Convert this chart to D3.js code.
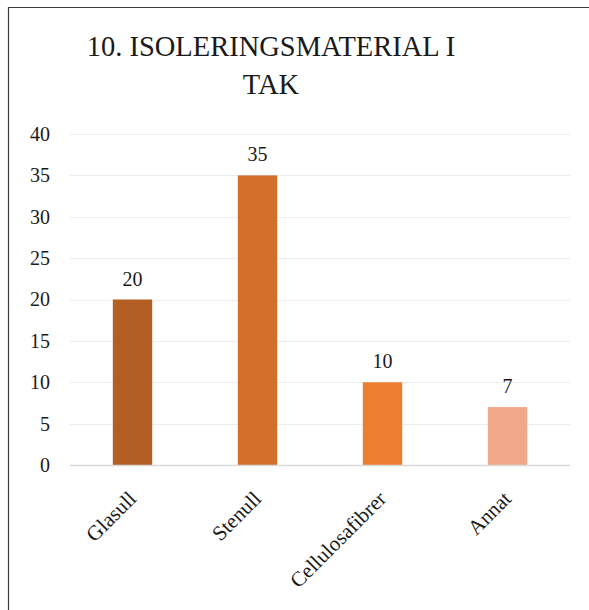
<!DOCTYPE html>
<html>
<head>
<meta charset="utf-8">
<script src="https://cdn.jsdelivr.net/npm/d3@7"></script>
<style>
  html, body { margin: 0; padding: 0; background: #fff; }
  svg { display: block; }
</style>
</head>
<body>
<script>
// Isolation material in roofs: counts per material
const categories = ["Glasull", "Stenull", "Cellulosafibrer", "Annat"];
const values = [20, 35, 10, 7];
const barColors = ["#B35E23", "#D46F2B", "#ED7D31", "#F1A78A"];
const yTicks = [0, 5, 10, 15, 20, 25, 30, 35, 40];
const titleLines = ["10. ISOLERINGSMATERIAL I", "TAK"];

const FONT = "'Liberation Serif', 'Times New Roman', serif";
const W = 589, H = 610;
const plot = { left: 70, right: 570, top: 134, bottom: 465 };

const svg = d3.select("body").append("svg")
  .attr("width", W).attr("height", H);

// chart frame
svg.append("path")
  .attr("d", `M8.5,${H} V7.5 H${W}`)
  .attr("fill", "none")
  .attr("stroke", "#3a3a3a")
  .attr("stroke-width", 1.2);

// title
svg.append("text")
  .attr("text-anchor", "middle")
  .style("font-family", FONT)
  .style("font-size", "28.5px")
  .style("fill", "#1a1a1a")
  .selectAll("tspan")
  .data(titleLines)
  .join("tspan")
  .attr("x", 271)
  .attr("y", (d, i) => 56 + i * 38)
  .text(d => d);

const x = d3.scaleBand()
  .domain(categories)
  .range([plot.left, plot.right])
  .paddingInner(0.685)
  .paddingOuter(0.3425);

const y = d3.scaleLinear()
  .domain([0, 40])
  .range([plot.bottom, plot.top]);

// gridlines
svg.append("g")
  .selectAll("line")
  .data(yTicks.filter(t => t > 0))
  .join("line")
  .attr("x1", plot.left).attr("x2", plot.right)
  .attr("y1", d => Math.round(y(d)) + 0.5)
  .attr("y2", d => Math.round(y(d)) + 0.5)
  .attr("stroke", "#EDEDED")
  .attr("stroke-width", 1);

// y axis labels
const yAxis = d3.axisLeft(y).tickValues(yTicks).tickSize(0).tickPadding(0);
const gy = svg.append("g")
  .attr("transform", `translate(${plot.left - 20},0)`)
  .call(yAxis);
gy.select(".domain").remove();
gy.selectAll("text")
  .style("font-family", FONT)
  .style("font-size", "20px")
  .style("fill", "#1a1a1a");

// bars
svg.append("g")
  .selectAll("rect")
  .data(values)
  .join("rect")
  .attr("x", (d, i) => x(categories[i]))
  .attr("width", x.bandwidth())
  .attr("y", d => y(d))
  .attr("height", d => y(0) - y(d))
  .attr("fill", (d, i) => barColors[i]);

// value labels
svg.append("g")
  .selectAll("text")
  .data(values)
  .join("text")
  .attr("x", (d, i) => x(categories[i]) + x.bandwidth() / 2)
  .attr("y", d => y(d) - 14)
  .attr("text-anchor", "middle")
  .style("font-family", FONT)
  .style("font-size", "20px")
  .style("fill", "#1a1a1a")
  .text(d => d);

// baseline
svg.append("line")
  .attr("x1", plot.left).attr("x2", plot.right)
  .attr("y1", plot.bottom + 0.5).attr("y2", plot.bottom + 0.5)
  .attr("stroke", "#D9D9D9")
  .attr("stroke-width", 1.5);

// category labels, rotated
const xAxis = d3.axisBottom(x).tickSize(0).tickPadding(0);
const gx = svg.append("g")
  .attr("transform", `translate(0,${plot.bottom})`)
  .call(xAxis);
gx.select(".domain").remove();
gx.selectAll("text")
  .style("font-family", FONT)
  .style("font-size", "21px")
  .style("fill", "#1a1a1a")
  .attr("text-anchor", "end")
  .attr("dy", null)
  .attr("transform", "translate(5,35) rotate(-45)");
</script>
</body>
</html>
